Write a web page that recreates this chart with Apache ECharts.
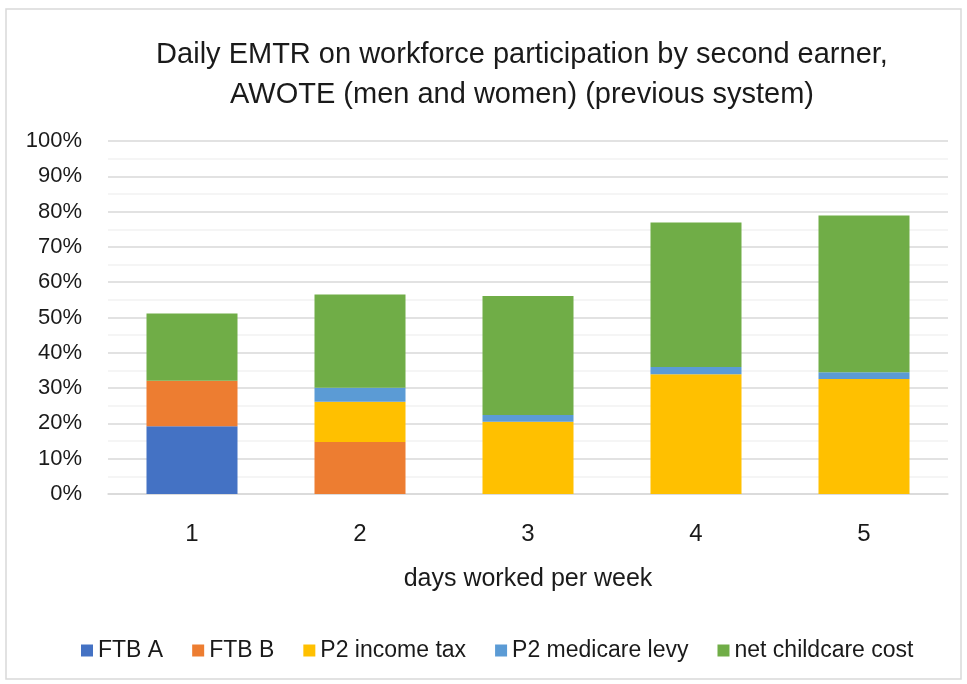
<!DOCTYPE html>
<html>
<head>
<meta charset="utf-8">
<title>Daily EMTR</title>
<script src="https://cdn.jsdelivr.net/npm/echarts@6/dist/echarts.min.js"></script>
<style>
  html, body { margin: 0; padding: 0; background: #fff; }
  #main { width: 967px; height: 684px; }
</style>
</head>
<body>
<div id="main"></div>
<script>
// days worked per week
var days = ['1', '2', '3', '4', '5'];

// EMTR parts, in percent
var ftbA = [19.2, 0, 0, 0, 0];
var ftbB = [12.9, 14.7, 0, 0, 0];
var incomeTax = [0, 11.4, 20.5, 33.9, 32.6];
var medicareLevy = [0, 4.0, 1.9, 2.1, 1.9];
var childcareCost = [19.0, 26.4, 33.7, 40.9, 44.4];

var seriesNames = ['FTB A', 'FTB B', 'P2 income tax', 'P2 medicare levy', 'net childcare cost'];
var seriesColors = ['#4472C4', '#ED7D31', '#FFC000', '#5B9BD5', '#70AD47'];
var seriesData = [ftbA, ftbB, incomeTax, medicareLevy, childcareCost];

var font = '"Liberation Sans", sans-serif';

var myChart = echarts.init(document.getElementById('main'));

var series = [];
for (var i = 0; i < seriesNames.length; i++) {
    series.push({
        name: seriesNames[i],
        type: 'bar',
        stack: 'emtr',
        barWidth: 91,
        itemStyle: { color: seriesColors[i] },
        data: seriesData[i]
    });
}

var option = {
    backgroundColor: '#fff',
    animation: false,
    textStyle: { fontFamily: font },
    title: {
        text: 'Daily EMTR on workforce participation by second earner,\nAWOTE (men and women) (previous system)',
        left: 517,
        textAlign: 'center',
        top: 30,
        textStyle: {
            fontFamily: font,
            fontSize: 29,
            fontWeight: 'normal',
            color: '#1a1a1a',
            lineHeight: 40
        }
    },
    legend: {
        data: seriesNames,
        top: 634,
        left: 76,
        itemWidth: 12,
        itemHeight: 12,
        itemGap: 29,
        icon: 'rect',
        textStyle: { fontFamily: font, fontSize: 23, color: '#1a1a1a' }
    },
    grid: {
        left: 108,
        right: 19,
        top: 141,
        bottom: 190
    },
    xAxis: {
        type: 'category',
        data: days,
        name: 'days worked per week',
        nameLocation: 'middle',
        nameGap: 73,
        nameTextStyle: { fontFamily: font, fontSize: 25, color: '#1a1a1a' },
        axisTick: { show: false },
        axisLine: { lineStyle: { color: '#D9D9D9', width: 1.5 } },
        axisLabel: { fontFamily: font, fontSize: 24, color: '#1a1a1a', margin: 28 }
    },
    yAxis: {
        type: 'value',
        min: 0,
        max: 100,
        interval: 10,
        axisLine: { show: false },
        axisTick: { show: false },
        axisLabel: {
            formatter: '{value}%',
            fontFamily: font,
            fontSize: 22,
            color: '#1a1a1a',
            margin: 26
        },
        splitLine: { lineStyle: { color: '#D9D9D9', width: 1.5 } },
        minorTick: { show: false, splitNumber: 2 },
        minorSplitLine: { show: true, lineStyle: { color: '#F2F2F2', width: 1.5 } }
    },
    graphic: [
        {
            type: 'rect',
            shape: { x: 6, y: 9, width: 955, height: 670 },
            style: { fill: 'none', stroke: '#D9D9D9', lineWidth: 1.5 },
            silent: true
        }
    ],
    series: series
};

myChart.setOption(option);
</script>
</body>
</html>
